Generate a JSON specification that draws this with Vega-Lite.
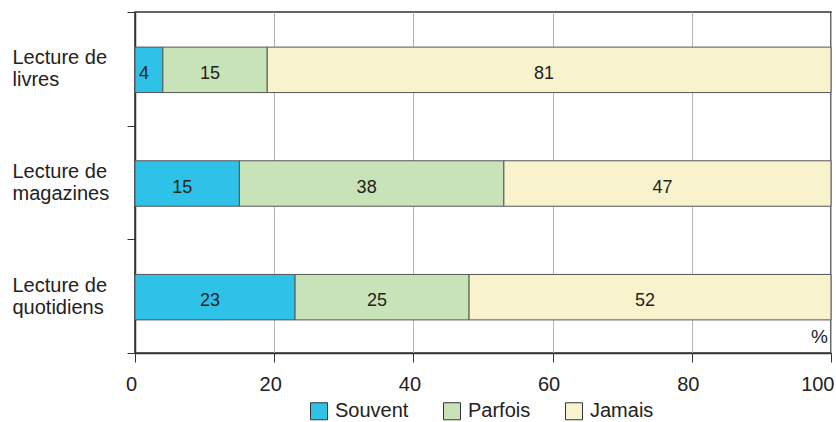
{
  "$schema": "https://vega.github.io/schema/vega-lite/v6.json",
  "width": 696,
  "height": 341,
  "autosize": {"type": "none"},
  "padding": {"left": 135, "top": 12, "right": 5, "bottom": 69},
  "config": {
    "font": "Liberation Sans",
    "view": {"stroke": "#333", "strokeWidth": 1.5}
  },
  "data": {
    "values": [
      {"cat": "Lecture de|livres", "rep": "Souvent", "k": 1, "v": 4},
      {"cat": "Lecture de|livres", "rep": "Parfois", "k": 2, "v": 15},
      {"cat": "Lecture de|livres", "rep": "Jamais", "k": 3, "v": 81},
      {"cat": "Lecture de|magazines", "rep": "Souvent", "k": 1, "v": 15},
      {"cat": "Lecture de|magazines", "rep": "Parfois", "k": 2, "v": 38},
      {"cat": "Lecture de|magazines", "rep": "Jamais", "k": 3, "v": 47},
      {"cat": "Lecture de|quotidiens", "rep": "Souvent", "k": 1, "v": 23},
      {"cat": "Lecture de|quotidiens", "rep": "Parfois", "k": 2, "v": 25},
      {"cat": "Lecture de|quotidiens", "rep": "Jamais", "k": 3, "v": 52}
    ]
  },
  "transform": [
    {"stack": "v", "groupby": ["cat"], "sort": [{"field": "k"}], "as": ["v0", "v1"]},
    {"calculate": "(datum.v0 + datum.v1) / 2", "as": "mid"}
  ],
  "encoding": {
    "y": {
      "field": "cat",
      "type": "nominal",
      "sort": null,
      "scale": {"paddingInner": 0, "paddingOuter": 0},
      "axis": {
        "title": null,
        "labelExpr": "split(datum.label, '|')",
        "labelAlign": "left",
        "labelPadding": 115,
        "labelFontSize": 20,
        "labelLineHeight": 22,
        "labelOffset": -11,
        "labelColor": "#222",
        "tickBand": "extent",
        "tickSize": 8,
        "tickColor": "#333",
        "domainColor": "#333",
        "domainWidth": 1.5,
        "grid": false
      }
    }
  },
  "layer": [
    {
      "mark": {"type": "bar", "stroke": "#555", "strokeWidth": 1, "height": {"band": 0.4}, "yOffset": 1},
      "encoding": {
        "x": {
          "field": "v0",
          "type": "quantitative",
          "scale": {"domain": [0, 100], "nice": false},
          "axis": {
            "values": [0, 20, 40, 60, 80, 100],
            "grid": true,
            "gridColor": "#b5b5b5",
            "gridWidth": 1,
            "domainColor": "#333",
            "domainWidth": 1.5,
            "tickColor": "#333",
            "tickSize": 9,
            "labelFontSize": 20,
            "labelColor": "#222",
            "labelPadding": 12,
            "labelAlign": {"condition": {"test": "datum.value == 100", "value": "right"}, "value": "center"},
            "labelOffset": {"condition": {"test": "datum.value == 100", "value": 3}, "value": -4},
            "title": "%",
            "titleFontSize": 19,
            "titleFontWeight": "normal",
            "titleColor": "#222",
            "titleX": 684,
            "titleY": -17,
            "titleAlign": "center",
            "titleBaseline": "middle"
          }
        },
        "x2": {"field": "v1"},
        "color": {
          "field": "rep",
          "type": "nominal",
          "sort": ["Souvent", "Parfois", "Jamais"],
          "scale": {"domain": ["Souvent", "Parfois", "Jamais"], "range": ["#2ec2e9", "#c9e3b8", "#f9f3cd"]},
          "legend": {
            "title": null,
            "orient": "none",
            "legendX": 174,
            "legendY": 389,
            "direction": "horizontal",
            "symbolType": "square",
            "symbolSize": 289,
            "symbolStrokeColor": "#333",
            "symbolStrokeWidth": 1,
            "symbolOpacity": 1,
            "labelFontSize": 20,
            "labelColor": "#222",
            "labelOffset": 6,
            "columnPadding": 32
          }
        }
      }
    },
    {
      "mark": {"type": "text", "fontSize": 18, "color": "#222", "baseline": "middle", "dy": 5, "dx": -5},
      "encoding": {
        "x": {"field": "mid", "type": "quantitative"},
        "text": {"field": "v"}
      }
    }
  ]
}
